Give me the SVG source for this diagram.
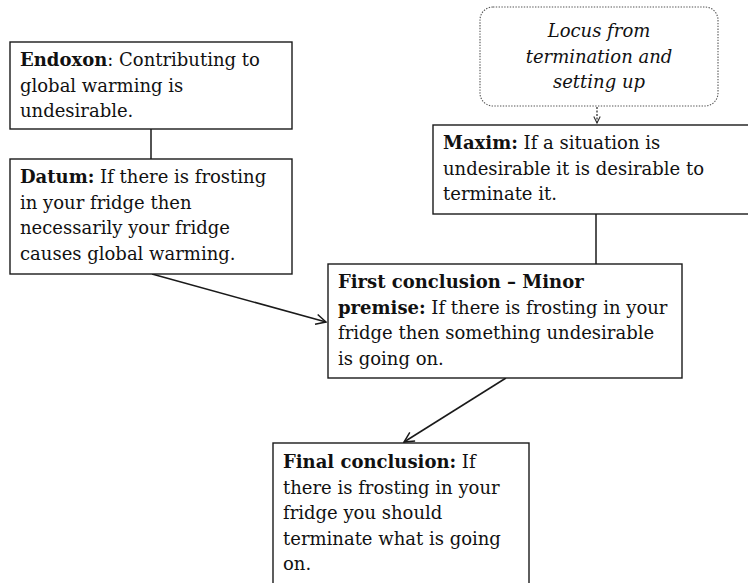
<svg xmlns="http://www.w3.org/2000/svg" width="748" height="583" viewBox="0 0 748 583">
<defs>
<style>
.box{fill:#fff;stroke:#1a1a1a;stroke-width:1.4}
.dot{fill:#fff;stroke:#555;stroke-width:1.1;stroke-dasharray:1.4 1.4}
.t{font-family:"DejaVu Serif","Liberation Serif",serif;font-size:18px;fill:#111}
.i{font-style:italic;text-anchor:middle}
.b{font-weight:bold}
.c{stroke:#1a1a1a;stroke-width:1.5;fill:none}
.d{stroke:#333;stroke-width:1.3;fill:none;stroke-dasharray:2 1.5}
</style>
<marker id="ah" markerUnits="userSpaceOnUse" viewBox="0 0 12 12" refX="11" refY="6" markerWidth="12" markerHeight="12" orient="auto">
<path d="M1,1 L11,6 L1,11" fill="none" stroke="#1a1a1a" stroke-width="1.5"/>
</marker>
<marker id="ahs" markerUnits="userSpaceOnUse" viewBox="0 0 10 10" refX="9" refY="5" markerWidth="8" markerHeight="8" orient="auto">
<path d="M1,1 L9,5 L1,9" fill="none" stroke="#333" stroke-width="1.4"/>
</marker>
</defs>
<rect width="748" height="583" fill="#fff"/>
<g id="connectors">
<line class="c" x1="151" y1="129" x2="151" y2="159"/>
<line class="c" x1="596" y1="214" x2="596" y2="264"/>
<line class="c" x1="152" y1="274" x2="326" y2="322" marker-end="url(#ah)"/>
<line class="c" x1="506" y1="378" x2="404" y2="442" marker-end="url(#ah)"/>
<line class="d" x1="597" y1="107" x2="597" y2="123" marker-end="url(#ahs)"/>
</g>
<g id="endoxon">
<rect class="box" x="10" y="42" width="282" height="87"/>
<text class="t" x="20" y="66"><tspan class="b">Endoxon</tspan>: Contributing to</text>
<text class="t" x="20" y="91.5">global warming is</text>
<text class="t" x="20" y="117">undesirable.</text>
</g>
<g id="datum">
<rect class="box" x="10" y="159" width="282" height="115"/>
<text class="t" x="20" y="183"><tspan class="b">Datum:</tspan> If there is frosting</text>
<text class="t" x="20" y="208.5">in your fridge then</text>
<text class="t" x="20" y="234">necessarily your fridge</text>
<text class="t" x="20" y="259.5">causes global warming.</text>
</g>
<g id="locus">
<rect class="dot" x="480" y="7" width="238" height="99" rx="13" ry="13"/>
<text class="t i" x="599" y="37">Locus from</text>
<text class="t i" x="599" y="62.5">termination and</text>
<text class="t i" x="599" y="88">setting up</text>
</g>
<g id="maxim">
<rect class="box" x="433" y="125" width="330" height="89"/>
<text class="t" x="443" y="149"><tspan class="b">Maxim:</tspan> If a situation is</text>
<text class="t" x="443" y="174.5">undesirable it is desirable to</text>
<text class="t" x="443" y="200">terminate it.</text>
</g>
<g id="first-conclusion">
<rect class="box" x="328" y="264" width="354" height="114"/>
<text class="t" x="338" y="288"><tspan class="b">First conclusion – Minor</tspan></text>
<text class="t" x="338" y="313.5"><tspan class="b">premise:</tspan> If there is frosting in your</text>
<text class="t" x="338" y="339">fridge then something undesirable</text>
<text class="t" x="338" y="364.5">is going on.</text>
</g>
<g id="final-conclusion">
<rect class="box" x="273" y="443" width="256" height="150"/>
<text class="t" x="283" y="468"><tspan class="b">Final conclusion:</tspan> If</text>
<text class="t" x="283" y="493.5">there is frosting in your</text>
<text class="t" x="283" y="519">fridge you should</text>
<text class="t" x="283" y="544.5">terminate what is going</text>
<text class="t" x="283" y="570">on.</text>
</g>
</svg>
